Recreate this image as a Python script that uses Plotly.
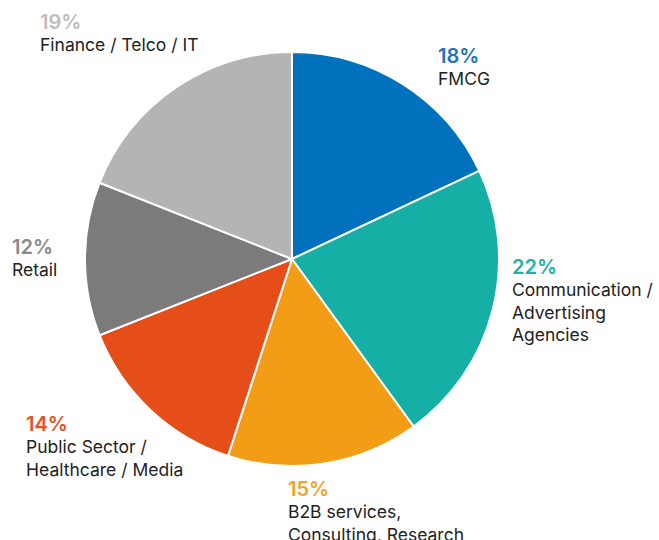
import plotly.graph_objects as go

# ---- data ----
categories = ["FMCG", "Communication /\nAdvertising\nAgencies", "B2B services,\nConsulting, Research",
              "Public Sector /\nHealthcare / Media", "Retail", "Finance / Telco / IT"]
values = [18, 22, 15, 14, 12, 19]
slice_colors = ["#0071BC", "#15AFA6", "#F39C16", "#E54E19", "#7B7B7B", "#B4B4B4"]
pct_colors = ["#1C74C2", "#22B0A7", "#F5A325", "#E5531F", "#8A8A8A", "#BDBDBD"]

# label anchor (left x, top y of the percent line) in pixels
label_pos = [(437, 43), (511, 254), (287, 476), (25, 411), (11, 234), (39, 9)]

W, H = 659, 540
fig = go.Figure(go.Pie(
    labels=[c.replace("\n", " ") for c in categories],
    values=values,
    sort=False,
    direction="clockwise",
    rotation=0,
    textinfo="none",
    hoverinfo="label+percent",
    marker=dict(colors=slice_colors, line=dict(color="white", width=2)),
    domain=dict(x=[85 / W, 499 / W], y=[1 - 466 / H, 1 - 52 / H]),
    showlegend=False,
))

total = sum(values)
ann = []
for cat, v, col, (px, py) in zip(categories, values, pct_colors, label_pos):
    ann.append(dict(
        x=px / W, y=1 - py / H, xref="paper", yref="paper",
        xanchor="left", yanchor="top", showarrow=False, align="left",
        text=f"{round(100 * v / total)}%",
        font=dict(family="Inter", size=20, color=col, weight=600), borderpad=0,
    ))
    for i, line in enumerate(cat.split("\n")):
        ann.append(dict(
            x=px / W, y=1 - (py + 24 + 22.5 * i) / H, xref="paper", yref="paper",
            xanchor="left", yanchor="top", showarrow=False, align="left",
            text=line,
            font=dict(family="Inter", size=17.5, color="#222222"), borderpad=0,
        ))

fig.update_layout(
    width=W, height=H,
    margin=dict(l=0, r=0, t=0, b=0),
    paper_bgcolor="white", plot_bgcolor="white",
    annotations=ann,
)
fig.write_html("out.html", config={"displayModeBar": False},
               post_script="document.body.style.margin='0';")
